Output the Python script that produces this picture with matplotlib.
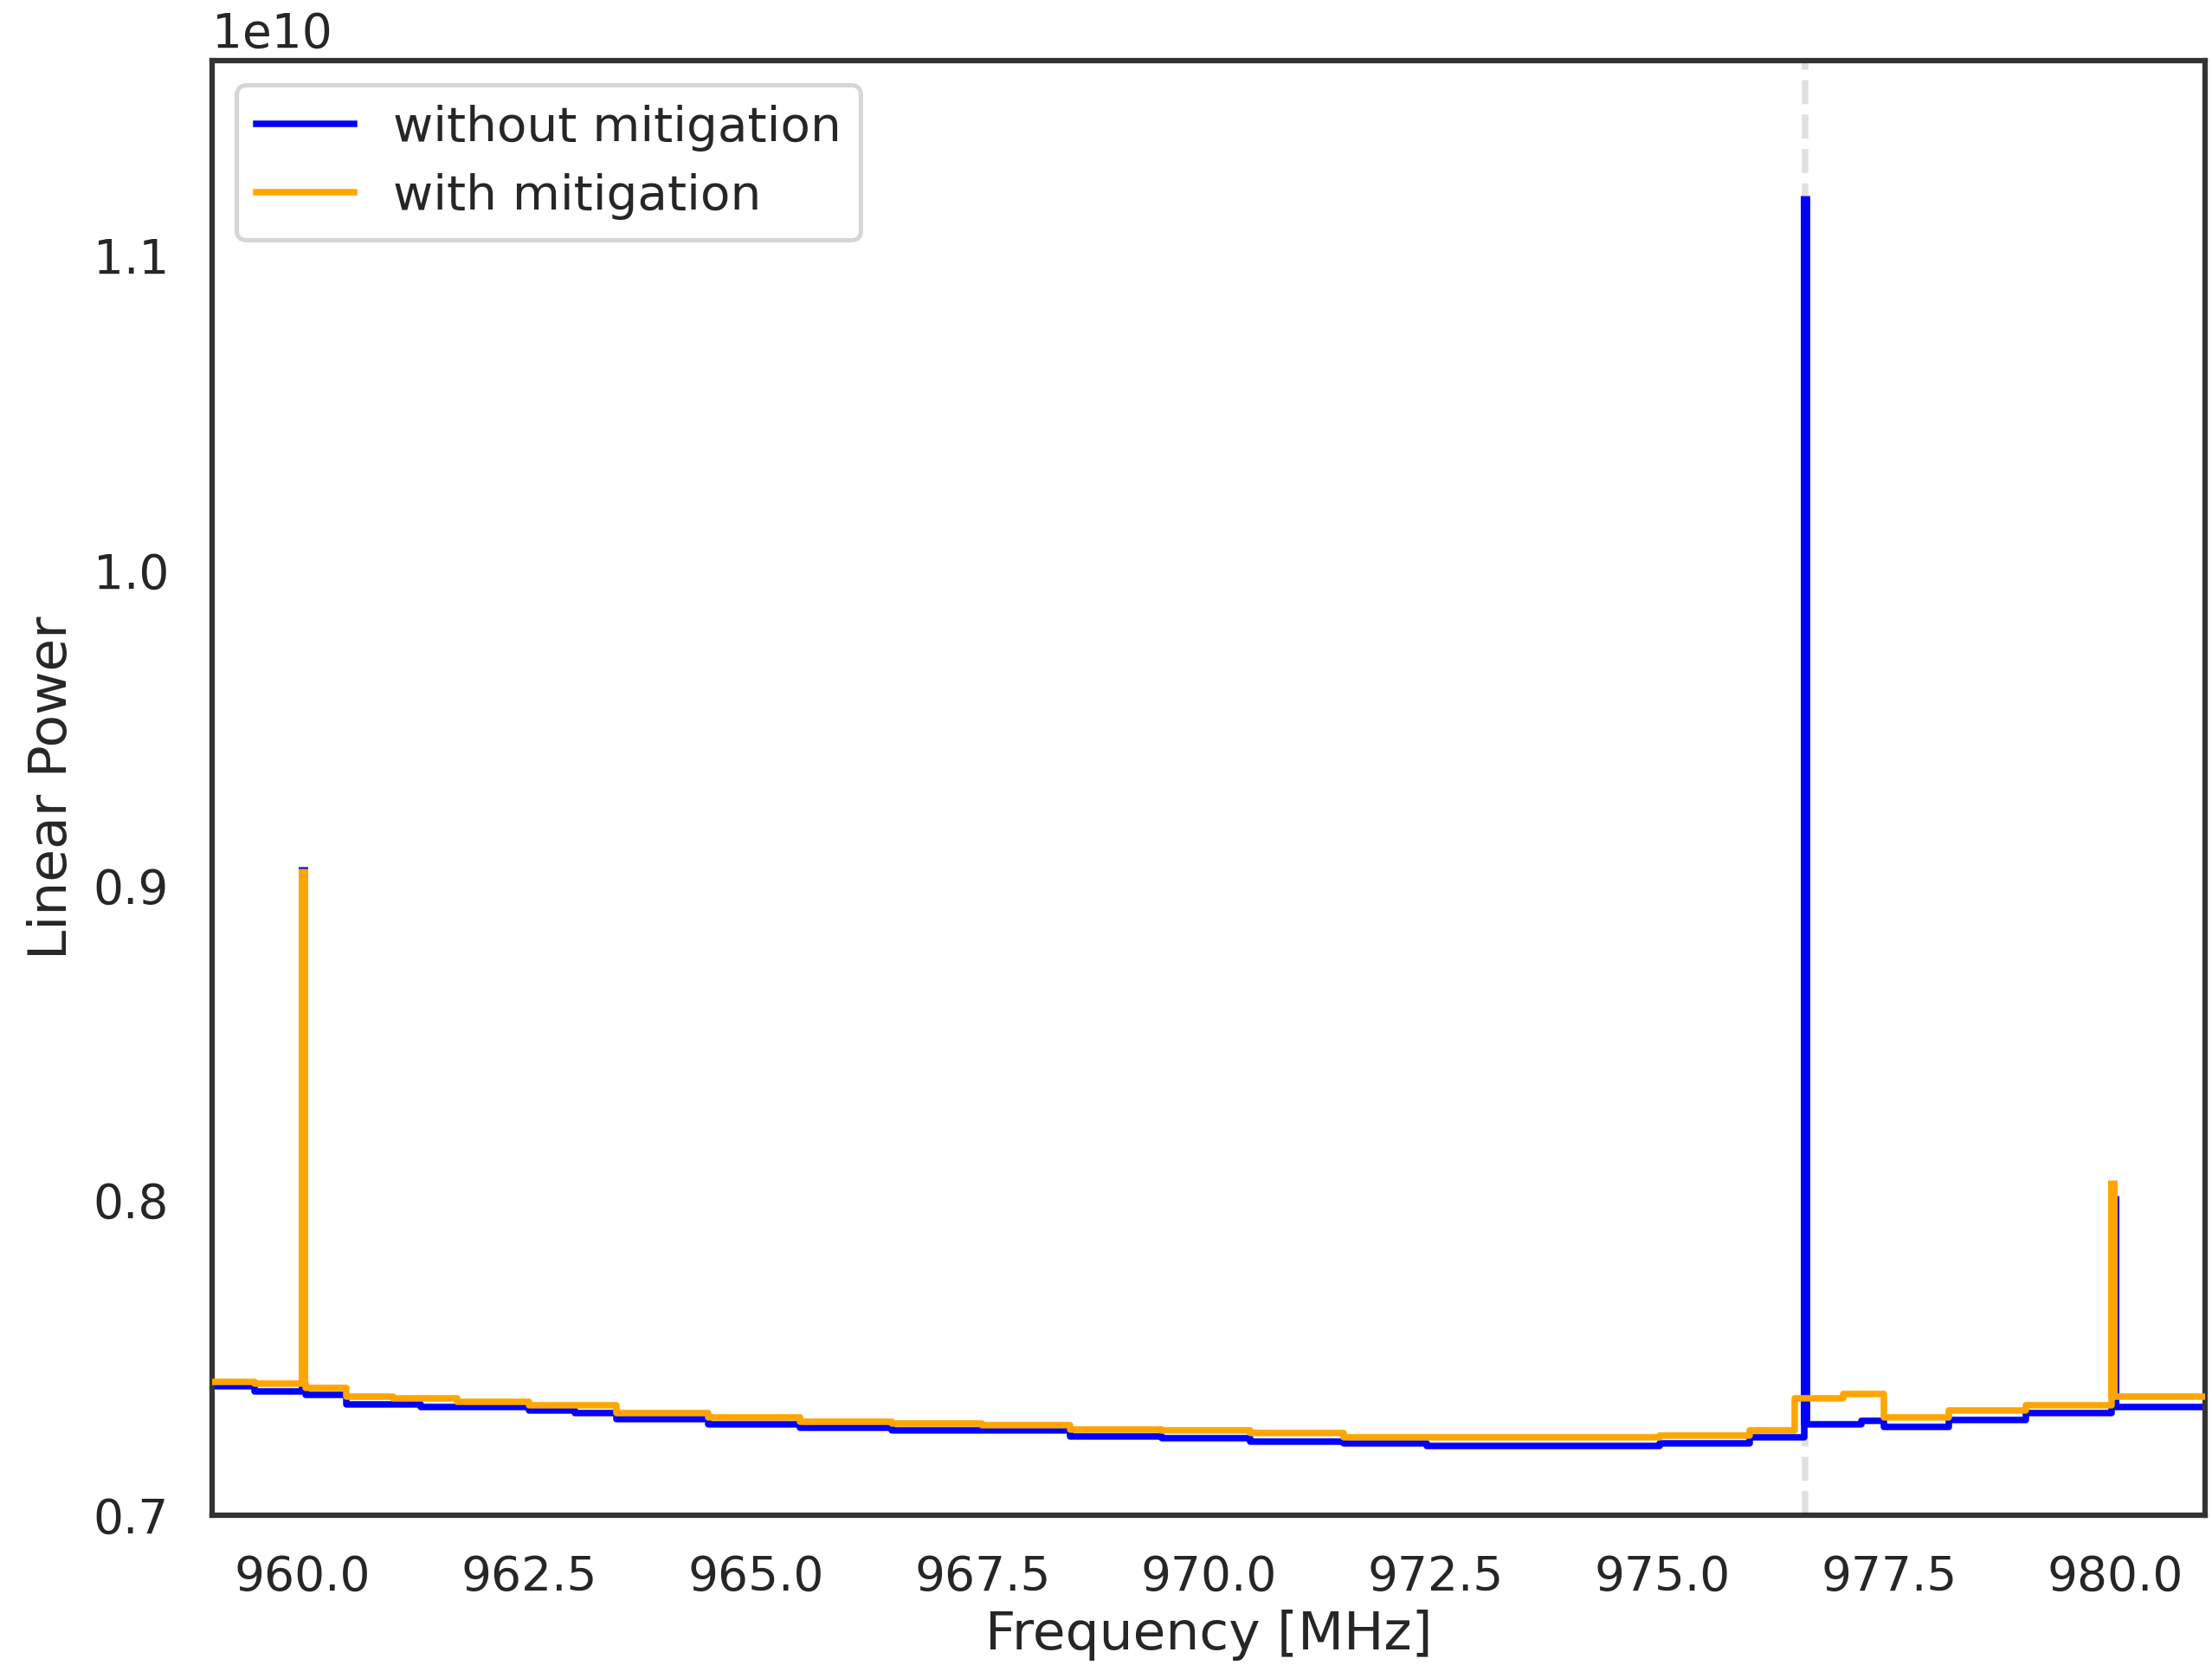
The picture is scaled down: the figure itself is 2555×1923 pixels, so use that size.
import numpy as np
import matplotlib
matplotlib.use("Agg")
import matplotlib.pyplot as plt
from matplotlib.ticker import MultipleLocator

# ---- data ----
# step edges [MHz] and levels [linear power, x1e10] of the baselines
orange_edges = [959.00, 959.47, 960.03, 960.48, 961.00, 961.70, 962.50, 963.46,
                964.47, 965.49, 966.50, 967.49, 968.47, 969.48, 970.45, 971.48,
                974.97, 975.96, 976.46, 977.00, 977.45, 978.16, 979.01, 979.96,
                980.99]
orange_levels = [0.7423, 0.7417, 0.7405, 0.7377, 0.7371, 0.7361, 0.7350, 0.7325,
                 0.7311, 0.7298, 0.7290, 0.7286, 0.7272, 0.7268, 0.7261, 0.7247,
                 0.7254, 0.7270, 0.7372, 0.7385, 0.7311, 0.7332, 0.7350, 0.7376]

blue_edges = [959.00, 959.47, 960.03, 960.48, 961.30, 962.50, 963.00, 963.46,
              964.47, 965.49, 966.50, 968.47, 969.48, 970.45, 971.48, 972.40,
              974.97, 975.96, 976.57, 977.20, 977.45, 978.16, 979.01, 979.96,
              980.99]
blue_levels = [0.7410, 0.7394, 0.7383, 0.7352, 0.7344, 0.7333, 0.7325, 0.7305,
               0.7289, 0.7277, 0.7268, 0.7249, 0.7245, 0.7234, 0.7228, 0.7220,
               0.7228, 0.7247, 0.7289, 0.7300, 0.7280, 0.7302, 0.7325, 0.7344]

# narrow RFI spikes
blue_spike_freq = [960.005, 976.58, 979.985]
blue_spike_power = [0.9058, 1.1188, 0.8015]
orange_spike_freq = [960.00, 979.965]
orange_spike_power = [0.9054, 0.8064]

flagged_channel = 976.58
scale = 1e10

labels = ["without mitigation", "with mitigation"]
colors = ["#0000ff", "#ffa500"]

# ---- figure ----
DPI = 360
fig = plt.figure(figsize=(2555 / DPI, 1923 / DPI), dpi=DPI)
ax = fig.add_axes([0.0959, 0.0900, 0.9010, 0.8736])

text_color = "#262626"
plt.rcParams["font.family"] = ["DejaVu Sans"]

ax.axvline(flagged_channel, color="#e0e0e0", lw=1.5, ls="--", zorder=1)


def draw(edges, levels, sf, sp, color, label, z):
    edges = np.asarray(edges)
    levels = np.asarray(levels) * scale
    ax.plot(edges, np.append(levels, levels[-1]), drawstyle="steps-post",
            color=color, lw=1.5, label=label, zorder=z)
    idx = np.searchsorted(edges, sf, side="right") - 1
    base = levels[np.clip(idx, 0, len(levels) - 1)]
    ax.vlines(sf, base, np.asarray(sp) * scale, color=color, lw=2.2, zorder=z)


draw(blue_edges, blue_levels, blue_spike_freq, blue_spike_power, colors[0], labels[0], 2)
draw(orange_edges, orange_levels, orange_spike_freq, orange_spike_power, colors[1], labels[1], 3)

ax.set_xlim(959.0, 980.99)
ax.set_ylim(0.7 * scale, 1.1618 * scale)
ax.xaxis.set_major_locator(MultipleLocator(2.5))
ax.yaxis.set_major_locator(MultipleLocator(0.1 * scale))

for s in ax.spines.values():
    s.set_color("#333333")
    s.set_linewidth(1.25)

ax.tick_params(axis="both", length=0, labelsize=11, labelcolor=text_color)
ax.tick_params(axis="x", pad=9)
ax.tick_params(axis="y", pad=10)
ax.yaxis.get_offset_text().set_fontsize(11)
ax.yaxis.get_offset_text().set_color(text_color)

ax.set_xlabel("Frequency [MHz]", fontsize=12.3, color=text_color, labelpad=2)
ax.set_ylabel("Linear Power", fontsize=12.3, color=text_color, labelpad=3.5)

leg = ax.legend(loc="upper left", fontsize=11.3, frameon=True, fancybox=True,
                edgecolor="0.8", facecolor="white", framealpha=0.8,
                labelspacing=0.45)
for t in leg.get_texts():
    t.set_color(text_color)

fig.savefig("out.png", dpi=DPI)
